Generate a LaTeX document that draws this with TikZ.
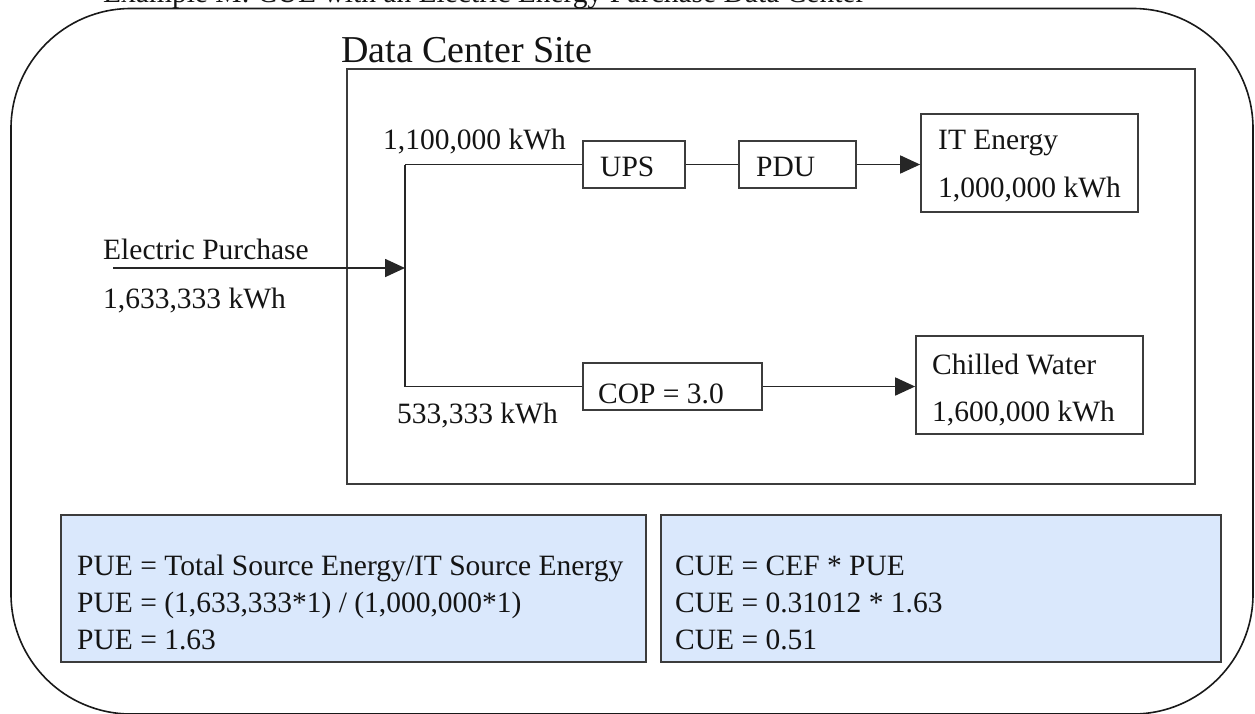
\documentclass[tikz,border=0pt]{standalone}
\usepackage{fontspec}
\setmainfont{Liberation Serif}
\usetikzlibrary{arrows.meta}
\definecolor{calcblue}{RGB}{218,232,252}
\definecolor{edge}{RGB}{60,60,60}
\begin{document}
\begin{tikzpicture}[x=1pt,y=-1pt,
  txt/.style={anchor=base west, inner sep=0pt, font=\fontsize{29.5}{35}\selectfont, text=black!92},
  bigtxt/.style={anchor=base west, inner sep=0pt, font=\fontsize{38}{44}\selectfont, text=black!92},
  blk/.style={draw=edge, line width=1.7pt, inner sep=0pt},
  calcbox/.style={blk, fill=calcblue},
  wire/.style={draw=black!85, line width=1.7pt},
  arr/.style={wire, -{Triangle[length=20pt,width=18pt]}},
  outer/.style={draw=black!90, line width=1.6pt, rounded corners=120pt}]
\clip (0,0) rectangle (1255,713);
% outer rounded frame
\draw[outer] (11,8.5) rectangle (1253,714);
\node[txt] (title) at (103,2.5) {Example M: CUE with an Electric Energy Purchase Data Center};
% site
\node[blk, minimum width=848pt, minimum height=415pt] (site) at (771,276.5) {};
\node[bigtxt] (sitelbl) at (341,62) {Data Center Site};
% boxes
\node[blk, minimum width=102pt, minimum height=47pt] (ups) at (634,164.5) {};
\node[blk, minimum width=117pt, minimum height=47pt] (pdu) at (797.5,164.5) {};
\node[blk, minimum width=217pt, minimum height=98pt] (it) at (1029.5,163) {};
\node[blk, minimum width=179pt, minimum height=47pt] (cop) at (672.5,386.5) {};
\node[blk, minimum width=227pt, minimum height=98pt] (cw) at (1029.5,385) {};
\node[calcbox, minimum width=585pt, minimum height=147pt] (pue) at (353.5,588.5) {};
\node[calcbox, minimum width=560pt, minimum height=147pt] (cue) at (941,588.5) {};
% box texts
\node[txt] (upst) at (600,176) {UPS};
\node[txt] (pdut) at (756,176) {PDU};
\node[txt] (itt1) at (938,149) {IT Energy};
\node[txt] (itt2) at (938,197) {1,000,000 kWh};
\node[txt] (copt) at (598,403) {COP = 3.0};
\node[txt] (cwt1) at (932,374) {Chilled Water};
\node[txt] (cwt2) at (932,421) {1,600,000 kWh};
\node[txt] (pue1) at (77,575) {PUE = Total Source Energy/IT Source Energy};
\node[txt] (pue2) at (77,612) {PUE = (1,633,333*1) / (1,000,000*1)};
\node[txt] (pue3) at (77,649) {PUE = 1.63};
\node[txt] (cue1) at (675,575) {CUE = CEF * PUE};
\node[txt] (cue2) at (675,612) {CUE = 0.31012 * 1.63};
\node[txt] (cue3) at (675,649) {CUE = 0.51};
% flow labels
\node[txt] (ep1) at (103,259) {Electric Purchase};
\node[txt] (ep2) at (103,308) {1,633,333 kWh};
\node[txt] (top) at (383,149) {1,100,000 kWh};
\node[txt] (bot) at (397,423) {533,333 kWh};
% connectors
\coordinate (start) at (113,268);
\coordinate (j) at (405,268);
\coordinate (jt) at (405,164.5);
\coordinate (jb) at (405,386.5);
\draw[arr] (start) -- (j);
\draw[wire] (jt) -- (jb);
\draw[wire] (jt) -- (ups.west);
\draw[wire] (ups.east) -- (pdu.west);
\draw[arr] (pdu.east) -- (pdu.east -| it.west);
\draw[wire] (jb) -- (cop.west);
\draw[arr] (cop.east) -- (cop.east -| cw.west);
\end{tikzpicture}
\end{document}
